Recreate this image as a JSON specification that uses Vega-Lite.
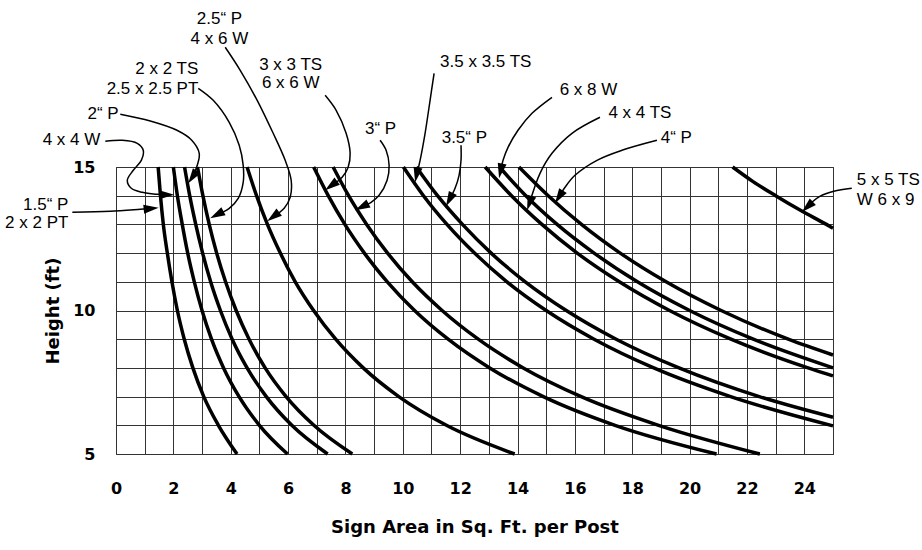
{
  "$schema": "https://vega.github.io/schema/vega-lite/v6.json",
  "autosize": {"type": "none"},
  "width": 717,
  "height": 287,
  "padding": {"left": 116, "top": 167, "right": 89, "bottom": 96},
  "background": "white",
  "config": {"view": {"stroke": "#333", "strokeWidth": 1}},
  "datasets": {
    "curves": [
      {"c":"A","h":15,"a":1.47},{"c":"A","h":14,"a":1.55},{"c":"A","h":13,"a":1.65},{"c":"A","h":12,"a":1.79},{"c":"A","h":11,"a":1.95},{"c":"A","h":10,"a":2.14},{"c":"A","h":9,"a":2.38},{"c":"A","h":8,"a":2.68},{"c":"A","h":7,"a":3.06},{"c":"A","h":6,"a":3.57},{"c":"A","h":5,"a":4.22},
      {"c":"B","h":15,"a":2.0},{"c":"B","h":14,"a":2.14},{"c":"B","h":13,"a":2.31},{"c":"B","h":12,"a":2.5},{"c":"B","h":11,"a":2.73},{"c":"B","h":10,"a":3.0},{"c":"B","h":9,"a":3.33},{"c":"B","h":8,"a":3.75},{"c":"B","h":7,"a":4.29},{"c":"B","h":6,"a":5.0},{"c":"B","h":5,"a":5.98},
      {"c":"C","h":15,"a":2.39},{"c":"C","h":14,"a":2.57},{"c":"C","h":13,"a":2.78},{"c":"C","h":12,"a":3.02},{"c":"C","h":11,"a":3.3},{"c":"C","h":10,"a":3.64},{"c":"C","h":9,"a":4.05},{"c":"C","h":8,"a":4.57},{"c":"C","h":7,"a":5.24},{"c":"C","h":6,"a":6.13},{"c":"C","h":5,"a":7.38},
      {"c":"D","h":15,"a":2.84},{"c":"D","h":14,"a":3.03},{"c":"D","h":13,"a":3.25},{"c":"D","h":12,"a":3.51},{"c":"D","h":11,"a":3.82},{"c":"D","h":10,"a":4.19},{"c":"D","h":9,"a":4.64},{"c":"D","h":8,"a":5.2},{"c":"D","h":7,"a":5.93},{"c":"D","h":6,"a":6.9},{"c":"D","h":5,"a":8.24},
      {"c":"E","h":15,"a":4.57},{"c":"E","h":14,"a":4.9},{"c":"E","h":13,"a":5.28},{"c":"E","h":12,"a":5.73},{"c":"E","h":11,"a":6.25},{"c":"E","h":10,"a":6.89},{"c":"E","h":9,"a":7.66},{"c":"E","h":8,"a":8.62},{"c":"E","h":7,"a":9.86},{"c":"E","h":6,"a":11.52},{"c":"E","h":5,"a":13.9},
      {"c":"F","h":15,"a":6.89},{"c":"F","h":14,"a":7.4},{"c":"F","h":13,"a":7.98},{"c":"F","h":12,"a":8.66},{"c":"F","h":11,"a":9.46},{"c":"F","h":10,"a":10.41},{"c":"F","h":9,"a":11.58},{"c":"F","h":8,"a":13.03},{"c":"F","h":7,"a":14.9},{"c":"F","h":6,"a":17.4},{"c":"F","h":5,"a":20.94},
      {"c":"G","h":15,"a":7.57},{"c":"G","h":14,"a":8.11},{"c":"G","h":13,"a":8.74},{"c":"G","h":12,"a":9.47},{"c":"G","h":11,"a":10.33},{"c":"G","h":10,"a":11.37},{"c":"G","h":9,"a":12.63},{"c":"G","h":8,"a":14.2},{"c":"G","h":7,"a":16.22},{"c":"G","h":6,"a":18.92},{"c":"G","h":5,"a":22.45},
      {"c":"H","h":15,"a":10.02},{"c":"H","h":14,"a":10.72},{"c":"H","h":13,"a":11.54},{"c":"H","h":12,"a":12.5},{"c":"H","h":11,"a":13.63},{"c":"H","h":10,"a":15.0},{"c":"H","h":9,"a":16.67},{"c":"H","h":8,"a":18.75},{"c":"H","h":7,"a":21.43},{"c":"H","h":5.98,"a":25},
      {"c":"I","h":15,"a":10.47},{"c":"I","h":14,"a":11.21},{"c":"I","h":13,"a":12.08},{"c":"I","h":12,"a":13.08},{"c":"I","h":11,"a":14.27},{"c":"I","h":10,"a":15.7},{"c":"I","h":9,"a":17.44},{"c":"I","h":8,"a":19.63},{"c":"I","h":7,"a":22.43},{"c":"I","h":6.28,"a":25},
      {"c":"J","h":15,"a":12.87},{"c":"J","h":14,"a":13.79},{"c":"J","h":13,"a":14.85},{"c":"J","h":12,"a":16.08},{"c":"J","h":11,"a":17.55},{"c":"J","h":10,"a":19.3},{"c":"J","h":9,"a":21.44},{"c":"J","h":8,"a":24.13},{"c":"J","h":7.72,"a":25},
      {"c":"K","h":15,"a":13.37},{"c":"K","h":14,"a":14.29},{"c":"K","h":13,"a":15.38},{"c":"K","h":12,"a":16.67},{"c":"K","h":11,"a":18.18},{"c":"K","h":10,"a":20.0},{"c":"K","h":9,"a":22.22},{"c":"K","h":8,"a":25},
      {"c":"L","h":15,"a":14.05},{"c":"L","h":14,"a":15.07},{"c":"L","h":13,"a":16.23},{"c":"L","h":12,"a":17.58},{"c":"L","h":11,"a":19.18},{"c":"L","h":10,"a":21.1},{"c":"L","h":9,"a":23.44},{"c":"L","h":8.45,"a":25},
      {"c":"M","h":15,"a":21.5},{"c":"M","h":14.5,"a":22.2},{"c":"M","h":14,"a":23.0},{"c":"M","h":13.5,"a":23.85},{"c":"M","h":13,"a":24.77},{"c":"M","h":12.87,"a":25}
    ],
    "leaders": [
      {"id":"l1","i":1,"a":-1.523,"h":13.422},{"id":"l1","i":2,"a":-0.199,"h":13.456},{"id":"l1","i":3,"a":0.847,"h":13.526},{"id":"l1","i":4,"a":1.226,"h":13.554},
      {"id":"l2","i":1,"a":-0.373,"h":15.895},{"id":"l2","i":2,"a":0.22,"h":15.93},{"id":"l2","i":3,"a":0.742,"h":15.826},{"id":"l2","i":4,"a":0.951,"h":15.582},{"id":"l2","i":5,"a":0.882,"h":15.233},{"id":"l2","i":6,"a":0.603,"h":14.885},{"id":"l2","i":7,"a":0.394,"h":14.537},{"id":"l2","i":8,"a":0.533,"h":14.258},{"id":"l2","i":9,"a":0.916,"h":14.118},{"id":"l2","i":10,"a":1.439,"h":14.049},{"id":"l2","i":11,"a":1.77,"h":14.031},
      {"id":"l3","i":1,"a":0.15,"h":16.836},{"id":"l3","i":2,"a":1.195,"h":16.603},{"id":"l3","i":3,"a":2.125,"h":16.279},{"id":"l3","i":4,"a":2.648,"h":15.927},{"id":"l3","i":5,"a":2.902,"h":15.477},{"id":"l3","i":6,"a":2.833,"h":15.059},{"id":"l3","i":7,"a":2.666,"h":14.648},
      {"id":"l4","i":1,"a":2.868,"h":17.742},{"id":"l4","i":2,"a":3.39,"h":17.324},{"id":"l4","i":3,"a":3.948,"h":16.557},{"id":"l4","i":4,"a":4.296,"h":15.756},{"id":"l4","i":5,"a":4.435,"h":15.059},{"id":"l4","i":6,"a":4.435,"h":14.467},{"id":"l4","i":7,"a":4.261,"h":13.909},{"id":"l4","i":8,"a":3.948,"h":13.561},{"id":"l4","i":9,"a":3.516,"h":13.334},
      {"id":"l5","i":1,"a":3.808,"h":19.171},{"id":"l5","i":2,"a":4.331,"h":18.369},{"id":"l5","i":3,"a":4.923,"h":17.324},{"id":"l5","i":4,"a":5.481,"h":16.174},{"id":"l5","i":5,"a":5.899,"h":15.233},{"id":"l5","i":6,"a":6.108,"h":14.537},{"id":"l5","i":7,"a":6.073,"h":13.945},{"id":"l5","i":8,"a":5.864,"h":13.561},{"id":"l5","i":9,"a":5.481,"h":13.268},
      {"id":"l6","i":1,"a":7.293,"h":17.498},{"id":"l6","i":2,"a":7.676,"h":16.976},{"id":"l6","i":3,"a":8.024,"h":16.174},{"id":"l6","i":4,"a":8.164,"h":15.477},{"id":"l6","i":5,"a":8.094,"h":14.99},{"id":"l6","i":6,"a":7.885,"h":14.641},{"id":"l6","i":7,"a":7.502,"h":14.348},
      {"id":"l7","i":1,"a":9.209,"h":15.93},{"id":"l7","i":2,"a":9.418,"h":15.582},{"id":"l7","i":3,"a":9.523,"h":15.059},{"id":"l7","i":4,"a":9.453,"h":14.537},{"id":"l7","i":5,"a":9.174,"h":14.014},{"id":"l7","i":6,"a":8.895,"h":13.77},{"id":"l7","i":7,"a":8.571,"h":13.61},
      {"id":"l8","i":1,"a":11.091,"h":18.265},{"id":"l8","i":2,"a":10.951,"h":17.324},{"id":"l8","i":3,"a":10.777,"h":16.174},{"id":"l8","i":4,"a":10.603,"h":15.233},{"id":"l8","i":5,"a":10.481,"h":14.725},
      {"id":"l9","i":1,"a":12.03,"h":15.756},{"id":"l9","i":2,"a":12.03,"h":15.233},{"id":"l9","i":3,"a":11.962,"h":14.711},{"id":"l9","i":4,"a":11.822,"h":14.258},{"id":"l9","i":5,"a":11.627,"h":13.864},
      {"id":"l10","i":1,"a":15.202,"h":17.429},{"id":"l10","i":2,"a":14.505,"h":16.871},{"id":"l10","i":3,"a":14.017,"h":16.279},{"id":"l10","i":4,"a":13.669,"h":15.686},{"id":"l10","i":5,"a":13.495,"h":15.233},{"id":"l10","i":6,"a":13.411,"h":14.861},
      {"id":"l11","i":1,"a":16.875,"h":16.732},{"id":"l11","i":2,"a":15.899,"h":16.174},{"id":"l11","i":3,"a":15.202,"h":15.477},{"id":"l11","i":4,"a":14.784,"h":14.78},{"id":"l11","i":5,"a":14.418,"h":13.739},
      {"id":"l12","i":1,"a":18.861,"h":15.93},{"id":"l12","i":2,"a":17.641,"h":15.582},{"id":"l12","i":3,"a":16.77,"h":15.233},{"id":"l12","i":4,"a":16.003,"h":14.711},{"id":"l12","i":5,"a":15.655,"h":14.293},{"id":"l12","i":6,"a":15.446,"h":13.958},
      {"id":"l13","i":1,"a":25.655,"h":14.258},{"id":"l13","i":2,"a":25.028,"h":14.153},{"id":"l13","i":3,"a":24.54,"h":13.979},{"id":"l13","i":4,"a":24.261,"h":13.77},{"id":"l13","i":5,"a":24.105,"h":13.61}
    ],
    "heads": [
      {"a":1.226,"h":13.554,"dir":84},
      {"a":1.77,"h":14.031,"dir":90},
      {"a":2.666,"h":14.648,"dir":214},
      {"a":3.516,"h":13.334,"dir":242},
      {"a":5.481,"h":13.268,"dir":233},
      {"a":7.502,"h":14.348,"dir":233},
      {"a":8.571,"h":13.61,"dir":243},
      {"a":10.481,"h":14.725,"dir":191},
      {"a":11.627,"h":13.864,"dir":207},
      {"a":13.411,"h":14.861,"dir":192},
      {"a":14.418,"h":13.739,"dir":199},
      {"a":15.446,"h":13.958,"dir":212},
      {"a":24.105,"h":13.61,"dir":227}
    ],
    "lab_r": [
      {"a":-1.66,"h":13.69,"t":"1.5“ P"},
      {"a":-1.66,"h":13.05,"t":"2 x 2 PT"},
      {"a":-0.547,"h":15.93,"t":"4 x 4 W"},
      {"a":0.091,"h":16.86,"t":"2“ P"},
      {"a":2.87,"h":18.4,"t":"2 x 2  TS"},
      {"a":2.87,"h":17.73,"t":"2.5 x 2.5 PT"}
    ],
    "lab_c": [
      {"a":3.606,"h":20.14,"t":"2.5“ P"},
      {"a":3.606,"h":19.47,"t":"4 x 6 W"},
      {"a":6.091,"h":18.54,"t":"3 x 3 TS"},
      {"a":6.091,"h":17.91,"t":"6 x 6 W"},
      {"a":9.223,"h":16.34,"t":"3“ P"},
      {"a":12.892,"h":18.66,"t":"3.5 x 3.5 TS"},
      {"a":12.146,"h":16.02,"t":"3.5“ P"},
      {"a":16.474,"h":17.67,"t":"6 x 8 W"},
      {"a":18.268,"h":16.88,"t":"4 x 4 TS"},
      {"a":19.537,"h":16.01,"t":"4“ P"}
    ],
    "lab_l": [
      {"a":25.829,"h":14.54,"t":"5 x 5 TS"},
      {"a":25.829,"h":13.84,"t":"W 6 x 9"}
    ]
  },
  "encoding": {
    "x": {
      "field": "a", "type": "quantitative",
      "scale": {"domain": [0, 25], "nice": false, "zero": false},
      "axis": {
        "values": [0,1,2,3,4,5,6,7,8,9,10,11,12,13,14,15,16,17,18,19,20,21,22,23,24,25],
        "labelExpr": "datum.value % 2 == 0 && datum.value < 25 ? datum.label : ''",
        "grid": true, "gridColor": "#333", "gridWidth": 1, "gridOpacity": 1,
        "ticks": false, "tickSize": 0, "domain": false,
        "labelFont": "DejaVu Sans", "labelFontWeight": "bold", "labelFontSize": 16, "labelColor": "#000",
        "labelPadding": 26, "labelFlush": false, "labelOverlap": false,
        "title": "Sign Area in Sq. Ft. per Post",
        "titleFont": "DejaVu Sans", "titleFontSize": 18, "titleFontWeight": "bold", "titleColor": "#000",
        "titlePadding": 22
      }
    },
    "y": {
      "field": "h", "type": "quantitative",
      "scale": {"domain": [5, 15], "nice": false, "zero": false},
      "axis": {
        "values": [5,6,7,8,9,10,11,12,13,14,15],
        "labelExpr": "datum.value % 5 == 0 ? datum.label : ''",
        "grid": true, "gridColor": "#333", "gridWidth": 1, "gridOpacity": 1,
        "ticks": false, "tickSize": 0, "domain": false,
        "labelFont": "DejaVu Sans", "labelFontWeight": "bold", "labelFontSize": 16, "labelColor": "#000",
        "labelPadding": 21, "labelFlush": false, "labelOverlap": false,
        "title": "Height (ft)",
        "titleFont": "DejaVu Sans", "titleFontSize": 18, "titleFontWeight": "bold", "titleColor": "#000",
        "titlePadding": 10
      }
    }
  },
  "layer": [
    {
      "data": {"name": "curves"},
      "mark": {"type": "line", "color": "#000", "strokeWidth": 3.5, "interpolate": "monotone", "strokeCap": "butt"},
      "encoding": {"detail": {"field": "c"}, "order": {"field": "a", "type": "quantitative"}}
    },
    {
      "data": {"name": "leaders"},
      "mark": {"type": "line", "color": "#000", "strokeWidth": 1.5, "interpolate": "catmull-rom"},
      "encoding": {"detail": {"field": "id"}, "order": {"field": "i", "type": "quantitative"}}
    },
    {
      "data": {"name": "heads"},
      "mark": {"type": "point", "shape": "M0,-1L0.6,1L-0.6,1Z", "filled": true, "color": "#000", "opacity": 1, "size": 225, "strokeWidth": 0},
      "encoding": {"angle": {"field": "dir", "type": "quantitative", "scale": null}}
    },
    {
      "data": {"name": "lab_r"},
      "mark": {"type": "text", "align": "right", "baseline": "middle", "font": "Liberation Sans", "fontSize": 17, "color": "#000"},
      "encoding": {"text": {"field": "t"}}
    },
    {
      "data": {"name": "lab_c"},
      "mark": {"type": "text", "align": "center", "baseline": "middle", "font": "Liberation Sans", "fontSize": 17, "color": "#000"},
      "encoding": {"text": {"field": "t"}}
    },
    {
      "data": {"name": "lab_l"},
      "mark": {"type": "text", "align": "left", "baseline": "middle", "font": "Liberation Sans", "fontSize": 17, "color": "#000"},
      "encoding": {"text": {"field": "t"}}
    }
  ]
}
